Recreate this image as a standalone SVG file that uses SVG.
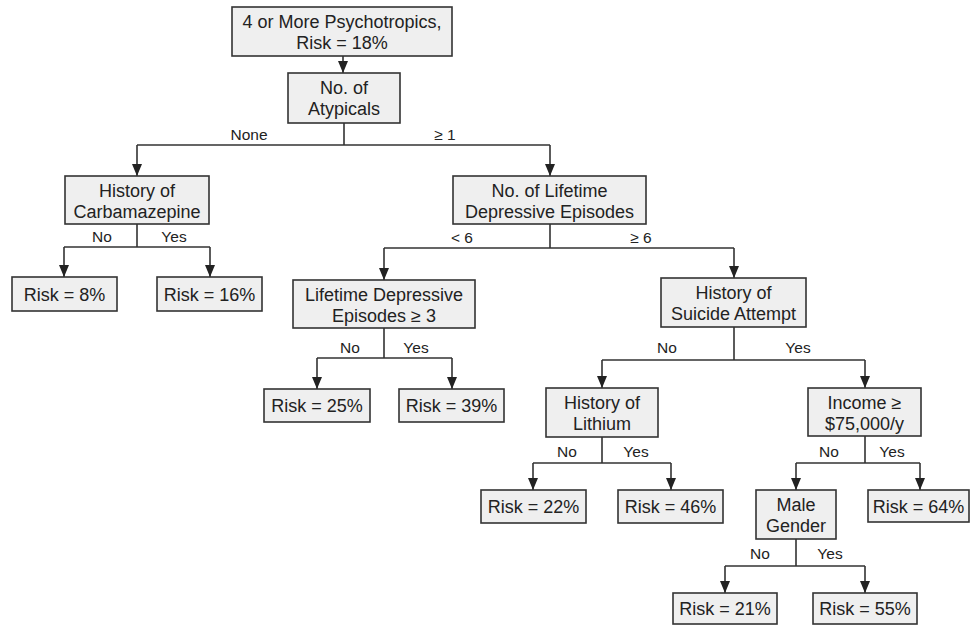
<svg xmlns="http://www.w3.org/2000/svg" width="971" height="625" viewBox="0 0 971 625">
<style>
.box{fill:#efefef;stroke:#333;stroke-width:1.6}
.t{font-family:"Liberation Sans",Arial,sans-serif;font-size:18px;fill:#222;text-anchor:middle}
.l{font-family:"Liberation Sans",Arial,sans-serif;font-size:15.5px;fill:#222;text-anchor:middle}
.c{fill:none;stroke:#333;stroke-width:1.6}
</style>
<defs>
<marker id="ah" viewBox="0 0 12 10" markerWidth="12" markerHeight="10" refX="12" refY="5" orient="auto" markerUnits="userSpaceOnUse">
<path d="M0,0 L12,5 L0,10 z" fill="#222"/>
</marker>
</defs>
<rect width="971" height="625" fill="#fff"/>
<g id="connectors">
<line class="c" x1="343" y1="56" x2="343" y2="73" marker-end="url(#ah)"/>
<path class="c" d="M344,123 V145 M137,145 H550"/>
<line class="c" x1="137" y1="145" x2="137" y2="176" marker-end="url(#ah)"/>
<line class="c" x1="550" y1="145" x2="550" y2="176" marker-end="url(#ah)"/>
<path class="c" d="M137,224 V247 M64,247 H210"/>
<line class="c" x1="64" y1="247" x2="64" y2="277" marker-end="url(#ah)"/>
<line class="c" x1="210" y1="247" x2="210" y2="277" marker-end="url(#ah)"/>
<path class="c" d="M550,224 V248 M384,248 H734"/>
<line class="c" x1="384" y1="248" x2="384" y2="280" marker-end="url(#ah)"/>
<line class="c" x1="734" y1="248" x2="734" y2="278" marker-end="url(#ah)"/>
<path class="c" d="M384,328 V358 M317,358 H452"/>
<line class="c" x1="317" y1="358" x2="317" y2="389" marker-end="url(#ah)"/>
<line class="c" x1="452" y1="358" x2="452" y2="389" marker-end="url(#ah)"/>
<path class="c" d="M734,327 V360 M602,360 H865"/>
<line class="c" x1="602" y1="360" x2="602" y2="388" marker-end="url(#ah)"/>
<line class="c" x1="865" y1="360" x2="865" y2="388" marker-end="url(#ah)"/>
<path class="c" d="M602,437 V463 M533,463 H671"/>
<line class="c" x1="533" y1="463" x2="533" y2="490" marker-end="url(#ah)"/>
<line class="c" x1="671" y1="463" x2="671" y2="490" marker-end="url(#ah)"/>
<path class="c" d="M865,436 V463 M796,463 H920"/>
<line class="c" x1="796" y1="463" x2="796" y2="490" marker-end="url(#ah)"/>
<line class="c" x1="920" y1="463" x2="920" y2="490" marker-end="url(#ah)"/>
<path class="c" d="M796,539 V566 M725,566 H865"/>
<line class="c" x1="725" y1="566" x2="725" y2="593" marker-end="url(#ah)"/>
<line class="c" x1="865" y1="566" x2="865" y2="593" marker-end="url(#ah)"/>
<text class="l" x="249" y="140">None</text>
<text class="l" x="445" y="140">≥ 1</text>
<text class="l" x="102" y="242">No</text>
<text class="l" x="174" y="242">Yes</text>
<text class="l" x="462" y="243">&lt; 6</text>
<text class="l" x="641" y="243">≥ 6</text>
<text class="l" x="350" y="353">No</text>
<text class="l" x="416" y="353">Yes</text>
<text class="l" x="667" y="353">No</text>
<text class="l" x="798" y="353">Yes</text>
<text class="l" x="567" y="457">No</text>
<text class="l" x="636" y="457">Yes</text>
<text class="l" x="829" y="457">No</text>
<text class="l" x="892" y="457">Yes</text>
<text class="l" x="760" y="559">No</text>
<text class="l" x="830" y="559">Yes</text>
</g>
<g id="root"><rect class="box" x="232" y="7" width="220" height="49"/><text class="t" x="342" y="28">4 or More Psychotropics,</text><text class="t" x="342" y="49">Risk = 18%</text></g>
<g id="atypicals"><rect class="box" x="288" y="73" width="112" height="50"/><text class="t" x="344" y="94">No. of</text><text class="t" x="344" y="115">Atypicals</text></g>
<g id="carbamazepine"><rect class="box" x="65" y="176" width="144" height="48"/><text class="t" x="137" y="197">History of</text><text class="t" x="137" y="218">Carbamazepine</text></g>
<g id="risk8"><rect class="box" x="12" y="277" width="105" height="34"/><text class="t" x="64.5" y="300.5">Risk = 8%</text></g>
<g id="risk16"><rect class="box" x="157" y="277" width="105" height="34"/><text class="t" x="209.5" y="300.5">Risk = 16%</text></g>
<g id="lifetime"><rect class="box" x="453" y="176" width="193" height="48"/><text class="t" x="549.5" y="197">No. of Lifetime</text><text class="t" x="549.5" y="218">Depressive Episodes</text></g>
<g id="lde3"><rect class="box" x="293" y="280" width="182" height="48"/><text class="t" x="384" y="301">Lifetime Depressive</text><text class="t" x="384" y="322">Episodes ≥ 3</text></g>
<g id="risk25"><rect class="box" x="264" y="389" width="106" height="33"/><text class="t" x="317" y="412">Risk = 25%</text></g>
<g id="risk39"><rect class="box" x="399" y="389" width="105" height="33"/><text class="t" x="451.5" y="412">Risk = 39%</text></g>
<g id="suicide"><rect class="box" x="661" y="278" width="145" height="49"/><text class="t" x="733.5" y="299">History of</text><text class="t" x="733.5" y="320">Suicide Attempt</text></g>
<g id="lithium"><rect class="box" x="546" y="388" width="112" height="49"/><text class="t" x="602" y="409">History of</text><text class="t" x="602" y="430">Lithium</text></g>
<g id="risk22"><rect class="box" x="481" y="490" width="105" height="33"/><text class="t" x="533.5" y="513">Risk = 22%</text></g>
<g id="risk46"><rect class="box" x="618" y="490" width="105" height="33"/><text class="t" x="670.5" y="513">Risk = 46%</text></g>
<g id="income"><rect class="box" x="808" y="388" width="113" height="48"/><text class="t" x="864.5" y="409">Income ≥</text><text class="t" x="864.5" y="430">$75,000/y</text></g>
<g id="male"><rect class="box" x="756" y="490" width="80" height="49"/><text class="t" x="796" y="511">Male</text><text class="t" x="796" y="532">Gender</text></g>
<g id="risk64"><rect class="box" x="868" y="490" width="101" height="32"/><text class="t" x="918.5" y="512.5">Risk = 64%</text></g>
<g id="risk21"><rect class="box" x="673" y="593" width="104" height="31"/><text class="t" x="725" y="615">Risk = 21%</text></g>
<g id="risk55"><rect class="box" x="813" y="593" width="104" height="31"/><text class="t" x="865" y="615">Risk = 55%</text></g>
</svg>
